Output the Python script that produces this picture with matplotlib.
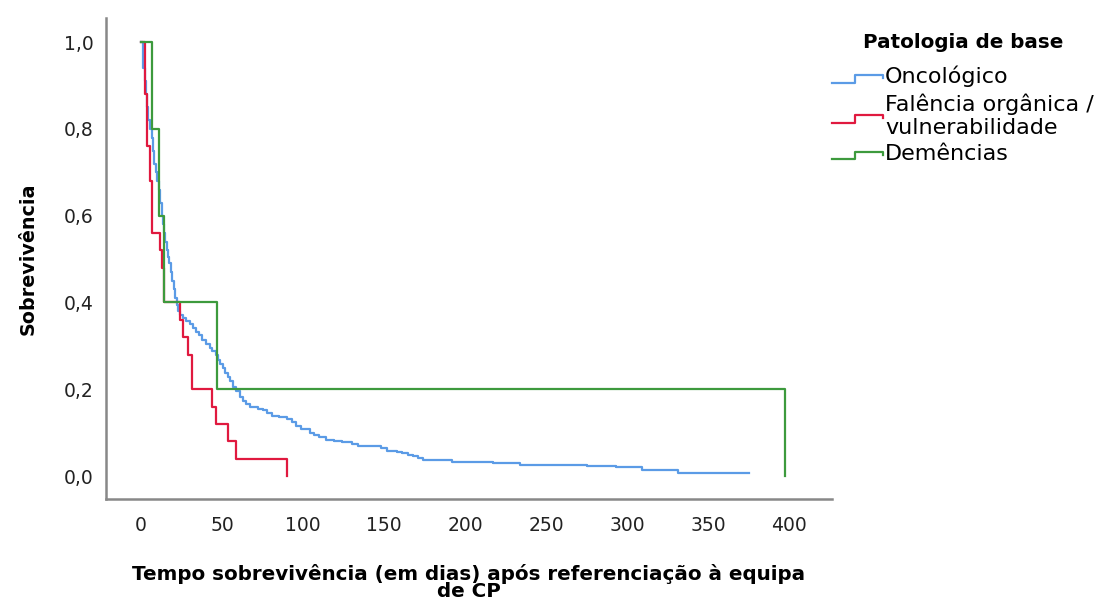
import matplotlib.pyplot as plt
from matplotlib.legend_handler import HandlerBase
from matplotlib.lines import Line2D
from matplotlib.ticker import FuncFormatter

# Kaplan-Meier curves: step times (days) and survival after each step
onco_days = [0, 1.0, 1.5, 2.5, 3.2, 3.8, 4.5, 5.5, 6.5, 7.3, 8.0, 9.0, 10.0, 11.0, 12.0, 12.8,
             13.5, 14.3, 15.0, 15.8, 16.6, 17.5, 18.5, 19.4, 20.3, 21.2, 22.0, 22.8, 24.0, 26.0,
             28.0, 30.0, 32.0, 34.0, 35.8, 37.6, 40.0, 42.5, 44.0, 46.0, 47.5, 49.0, 50.5, 51.8,
             53.5, 55.0, 56.7, 58.5, 61.0, 63.0, 65.0, 67.0, 72.0, 75.5, 78.0, 81.0, 85.0, 90.0,
             93.0, 95.5, 99.0, 104.0, 107.0, 110.0, 114.0, 119.0, 124.0, 130.0, 134.0, 148.0,
             152.0, 158.0, 161.0, 165.0, 168.0, 171.0, 174.0, 192.0, 217.0, 234.0, 275.0, 293.0,
             309.0, 331.0, 375.0]
onco_surv = [1.0, 0.97, 0.94, 0.91, 0.88, 0.85, 0.82, 0.80, 0.78, 0.75, 0.72, 0.70, 0.68, 0.66, 0.63, 0.60,
             0.58, 0.56, 0.54, 0.52, 0.505, 0.49, 0.47, 0.45, 0.43, 0.41, 0.395, 0.38, 0.37, 0.365,
             0.358, 0.35, 0.34, 0.333, 0.325, 0.313, 0.305, 0.295, 0.288, 0.28, 0.267, 0.258, 0.248, 0.237,
             0.228, 0.218, 0.205, 0.196, 0.182, 0.172, 0.165, 0.159, 0.155, 0.152, 0.145, 0.138, 0.135, 0.131,
             0.125, 0.115, 0.108, 0.10, 0.095, 0.09, 0.083, 0.08, 0.078, 0.073, 0.069, 0.065,
             0.058, 0.055, 0.053, 0.049, 0.046, 0.042, 0.037, 0.032, 0.030, 0.025, 0.023, 0.021,
             0.014, 0.008, 0.008]

falencia_days = [0, 2.5, 3.5, 5.5, 7, 12, 13, 14, 24, 26, 29, 31.5, 44, 46, 53.5, 58.5, 90]
falencia_surv = [1.0, 0.88, 0.76, 0.68, 0.56, 0.52, 0.48, 0.40, 0.36, 0.32, 0.28, 0.20, 0.16, 0.12, 0.08, 0.04, 0.0]

demencia_days = [0, 6.6, 11.3, 14.2, 46.8, 397]
demencia_surv = [1.0, 0.8, 0.6, 0.4, 0.2, 0.0]

group_labels = ["Oncológico", "Falência orgânica /\nvulnerabilidade", "Demências"]
group_colors = ["#5b9be6", "#e0193f", "#3d9a3d"]

x_ticks = [0, 50, 100, 150, 200, 250, 300, 350, 400]
y_ticks = [0.0, 0.2, 0.4, 0.6, 0.8, 1.0]


class StepHandler(HandlerBase):
    # small step-shaped legend icon like the SPSS one
    def create_artists(self, legend, orig_handle, xdescent, ydescent, width, height, fontsize, trans):
        x0, y0 = -xdescent, -ydescent
        lo, hi = y0 + height * 0.05, y0 + height * 0.55
        xs = [x0, x0 + width * 0.45, x0 + width * 0.45, x0 + width, x0 + width]
        ys = [lo, lo, hi, hi, hi - height * 0.2]
        line = Line2D(xs, ys, color=orig_handle.get_color(), linewidth=1.6, transform=trans)
        return [line]


fig = plt.figure(figsize=(10.96, 6.01), dpi=100)
ax = fig.add_axes([0.0967, 0.1697, 0.662, 0.800])

handles = []
for days, surv, col, lab in zip([onco_days, falencia_days, demencia_days],
                                [onco_surv, falencia_surv, demencia_surv],
                                group_colors, group_labels):
    ln, = ax.step(days, surv, where='post', color=col, linewidth=1.6, label=lab)
    handles.append(ln)

ax.set_xlim(-21.6, 426)
ax.set_ylim(-0.053, 1.055)
ax.set_xticks(x_ticks)
ax.set_yticks(y_ticks)
ax.yaxis.set_major_formatter(FuncFormatter(lambda v, p: f"{v:.1f}".replace(".", ",")))
ax.tick_params(length=0, labelsize=13.5, colors='#222222')
ax.tick_params(axis='x', pad=12)
ax.tick_params(axis='y', pad=9)

for s in ['top', 'right']:
    ax.spines[s].set_visible(False)
for s in ['left', 'bottom']:
    ax.spines[s].set_color('#888888')
    ax.spines[s].set_linewidth(1.8)

ax.set_xlabel("Tempo sobrevivência (em dias) após referenciação à equipa\nde CP",
              fontsize=14.3, fontweight='bold', labelpad=21, linespacing=0.85)
ax.set_ylabel("Sobrevivência", fontsize=13.8, fontweight='bold', labelpad=19)

leg = ax.legend(handles=handles, labels=group_labels, title="Patologia de base",
                loc='upper left', bbox_to_anchor=(0.759, 0.945), bbox_transform=fig.transFigure,
                frameon=False, fontsize=16, handlelength=2.3, handletextpad=0.1,
                labelspacing=0.27, borderpad=0, borderaxespad=0,
                handler_map={Line2D: StepHandler()})
leg.get_title().set_fontweight('bold')
leg.get_title().set_fontsize(14.3)
leg._legend_box.sep = 10

fig.savefig("out.png", dpi=100)
